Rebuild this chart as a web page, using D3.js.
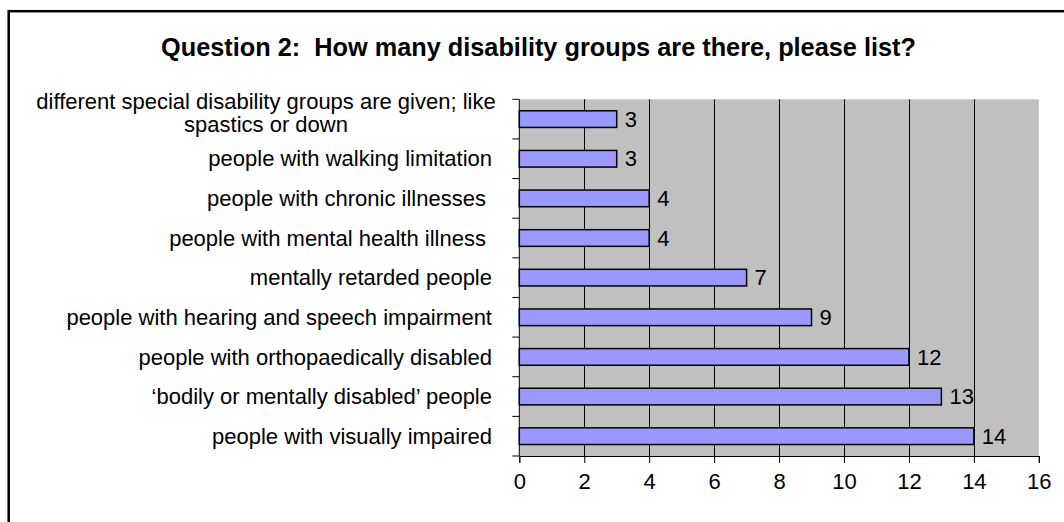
<!DOCTYPE html>
<html>
<head>
<meta charset="utf-8">
<script src="https://cdn.jsdelivr.net/npm/d3@7"></script>
<style>
  html, body { margin: 0; padding: 0; background: #fff; }
  svg { display: block; font-family: "Liberation Sans", Arial, sans-serif; }
</style>
</head>
<body>
<svg id="chart" width="1064" height="522"></svg>
<script>
// Survey answers: number of respondents naming each disability group
const categories = [
  "different special disability groups are given; like\nspastics or down",
  "people with walking limitation",
  "people with chronic illnesses ",
  "people with mental health illness ",
  "mentally retarded people",
  "people with hearing and speech impairment",
  "people with orthopaedically disabled",
  "\u2018bodily or mentally disabled\u2019 people",
  "people with visually impaired"
];
const counts = [3, 3, 4, 4, 7, 9, 12, 13, 14];
const xTicks = [0, 2, 4, 6, 8, 10, 12, 14, 16];
const title = "Question 2:  How many disability groups are there, please list?";

const svg = d3.select("#chart");
const plot = { left: 519.3, right: 1038.8, top: 99.3, bottom: 456 };
const fontSize = 22;

// outer chart frame (runs off the right and bottom of the page)
svg.append("rect")
  .attr("x", 8.7).attr("y", 11.2)
  .attr("width", 1100).attr("height", 600)
  .attr("fill", "none").attr("stroke", "#000").attr("stroke-width", 2.5);

svg.append("text")
  .attr("x", 538.5).attr("y", 56)
  .attr("text-anchor", "middle")
  .attr("font-weight", "bold")
  .attr("font-size", 25.3)
  .style("white-space", "pre")
  .text(title);

const x = d3.scaleLinear().domain([0, 16]).range([plot.left, plot.right]);
const y = d3.scaleBand().domain(categories)
  .range([plot.top, plot.bottom])
  .paddingInner(0.58).paddingOuter(0.29);

// plot background
svg.append("rect")
  .attr("x", plot.left).attr("y", plot.top)
  .attr("width", plot.right - plot.left).attr("height", plot.bottom - plot.top)
  .attr("fill", "#C0C0C0");

// vertical gridlines
svg.append("g")
  .selectAll("line")
  .data(xTicks.filter(t => t > 0 && t < 16))
  .join("line")
  .attr("x1", d => Math.round(x(d)) + 0.5).attr("x2", d => Math.round(x(d)) + 0.5)
  .attr("y1", plot.top).attr("y2", plot.bottom)
  .attr("stroke", "#000").attr("stroke-width", 1);

// bars
svg.append("g")
  .selectAll("rect")
  .data(categories)
  .join("rect")
  .attr("x", x(0))
  .attr("y", d => y(d))
  .attr("width", (d, i) => x(counts[i]) - x(0))
  .attr("height", y.bandwidth())
  .attr("fill", "#9999FF")
  .attr("stroke", "#000").attr("stroke-width", 1.5);

// value labels
svg.append("g")
  .selectAll("text")
  .data(categories)
  .join("text")
  .attr("x", (d, i) => x(counts[i]) + 8)
  .attr("y", d => y(d) + y.bandwidth() / 2)
  .attr("dy", "0.35em")
  .attr("font-size", fontSize)
  .text((d, i) => counts[i]);

// x axis
const xAxis = d3.axisBottom(x).tickValues(xTicks).tickSize(7).tickPadding(10);
const gx = svg.append("g")
  .attr("transform", `translate(0,${plot.bottom})`)
  .call(xAxis);
gx.select(".domain").attr("stroke", "#000").attr("stroke-width", 1);
gx.selectAll(".tick line").attr("stroke", "#000");
gx.selectAll(".tick text").attr("font-size", fontSize).attr("font-family", "Liberation Sans, Arial, sans-serif").attr("fill", "#000");

// y axis line with ticks on band boundaries
const gy = svg.append("g");
gy.append("line")
  .attr("x1", plot.left).attr("x2", plot.left)
  .attr("y1", plot.top).attr("y2", plot.bottom)
  .attr("stroke", "#000");
const step = y.step();
gy.selectAll("line.tk")
  .data(d3.range(categories.length + 1))
  .join("line").attr("class", "tk")
  .attr("x1", plot.left - 7).attr("x2", plot.left)
  .attr("y1", i => plot.top + i * step).attr("y2", i => plot.top + i * step)
  .attr("stroke", "#000");

// category labels (wrapped labels are centred as a block)
const labelRight = 492;
categories.forEach(cat => {
  const lines = cat.split("\n");
  const cy = y(cat) + y.bandwidth() / 2;
  if (lines.length === 1) {
    svg.append("text")
      .attr("x", labelRight).attr("y", cy).attr("dy", "0.35em")
      .attr("text-anchor", "end")
      .attr("font-size", fontSize)
      .style("white-space", "pre")
      .text(lines[0]);
  } else {
    const t = svg.append("text")
      .attr("font-size", fontSize)
      .attr("text-anchor", "middle");
    lines.forEach((ln, k) => {
      t.append("tspan")
        .attr("x", 266)
        .attr("y", cy - 10 + k * 23)
        .text(ln);
    });
  }
});
</script>
</body>
</html>
